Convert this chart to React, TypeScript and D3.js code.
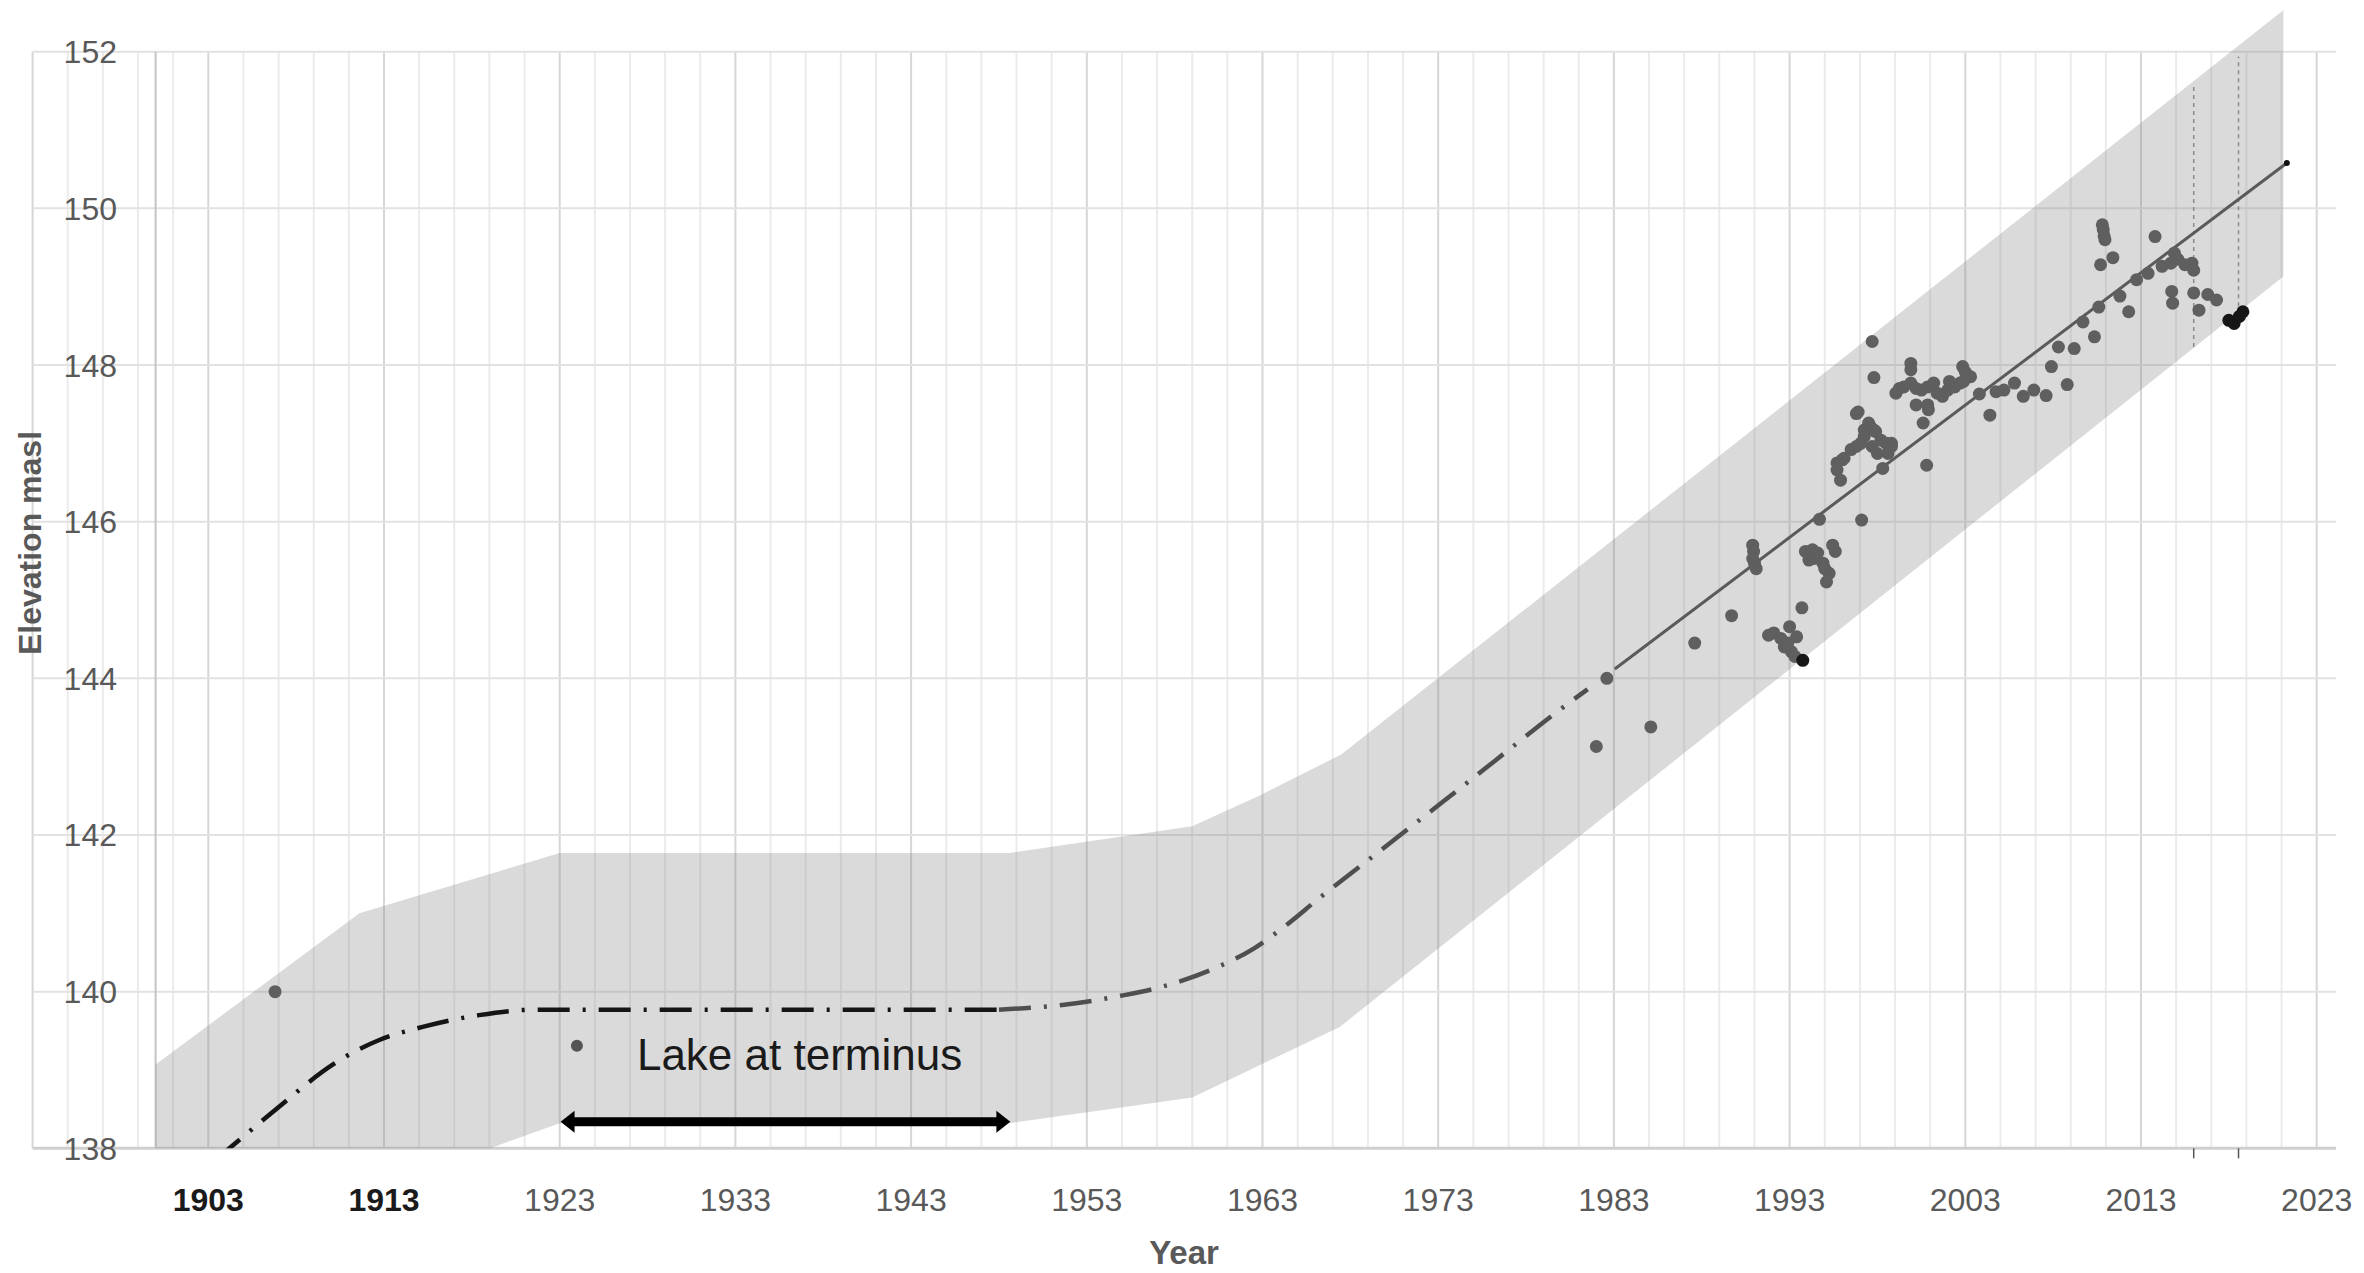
import React, { useEffect } from "react";
import * as d3 from "d3";

// ---------- data ----------
const yearTicks = [1903, 1913, 1923, 1933, 1943, 1953, 1963, 1973, 1983, 1993, 2003, 2013, 2023];
const darkYearLabels = [1903, 1913];
const elevTicks = [138, 140, 142, 144, 146, 148, 150, 152];

// observed elevations [year, elevation masl]
const observations: [number, number][] = [
  [1906.8, 140.0],
  [1982.0, 143.13], [1982.6, 144.0], [1985.1, 143.38], [1987.6, 144.45], [1989.7, 144.8],
  [1990.9, 145.7], [1990.95, 145.62], [1990.9, 145.53], [1991.0, 145.47], [1991.1, 145.4],
  [1991.8, 144.55], [1992.1, 144.58], [1992.5, 144.51], [1993.0, 144.66], [1993.4, 144.53],
  [1992.7, 144.4], [1993.1, 144.34], [1993.3, 144.28], [1992.9, 144.45], [1993.7, 144.9],
  [1993.9, 145.62], [1994.3, 145.64], [1994.6, 145.6], [1994.1, 145.51], [1994.4, 145.53],
  [1994.9, 145.47], [1995.0, 145.4], [1995.25, 145.34], [1995.1, 145.23], [1995.45, 145.7],
  [1995.6, 145.62], [1994.7, 146.03],
  [1995.7, 146.75], [1995.7, 146.66], [1995.9, 146.53], [1996.0, 146.79], [1996.1, 146.81],
  [1996.5, 146.92], [1996.8, 146.96], [1997.05, 147.0], [1997.25, 147.17], [1997.6, 147.21],
  [1997.9, 147.15], [1998.2, 147.04], [1998.5, 147.0], [1998.8, 147.0], [1998.6, 146.87],
  [1998.0, 146.87], [1997.7, 146.96], [1996.8, 147.38], [1997.1, 146.02], [1998.3, 146.68],
  [1996.9, 147.4], [1997.5, 147.26], [1997.8, 147.17], [1997.25, 147.09], [1998.8, 146.96],
  [1997.7, 148.3], [1997.8, 147.84],
  [1999.9, 148.02], [1999.9, 147.94], [1999.05, 147.64], [1999.24, 147.7], [1999.5, 147.72],
  [1999.9, 147.77], [2000.2, 147.7], [2000.5, 147.68], [2000.86, 147.72], [2001.2, 147.77],
  [2001.4, 147.64], [2001.7, 147.6], [2002.0, 147.68], [2002.1, 147.79], [2002.4, 147.72],
  [2002.7, 147.77], [2002.85, 147.98], [2003.0, 147.91], [2003.3, 147.85], [2002.9, 147.79],
  [2000.2, 147.49], [2000.86, 147.49], [2000.9, 147.43], [2000.6, 147.26], [2000.8, 146.72],
  [2003.8, 147.63], [2004.4, 147.36], [2004.75, 147.66], [2005.2, 147.68], [2005.8, 147.77],
  [2006.3, 147.6], [2006.9, 147.68], [2007.6, 147.61], [2007.9, 147.98], [2008.3, 148.23],
  [2008.8, 147.75], [2009.2, 148.21], [2009.7, 148.55], [2010.35, 148.36], [2010.6, 148.74],
  [2010.7, 149.28], [2010.8, 149.79], [2010.85, 149.73], [2010.9, 149.65], [2010.95, 149.6],
  [2011.4, 149.37], [2011.8, 148.88], [2012.3, 148.68], [2012.75, 149.09], [2013.4, 149.17],
  [2013.8, 149.64], [2014.2, 149.26], [2014.9, 149.43], [2015.1, 149.35], [2014.7, 149.3],
  [2015.5, 149.28], [2015.9, 149.3], [2016.0, 149.21], [2014.75, 148.94], [2014.8, 148.79],
  [2016.0, 148.92], [2016.3, 148.7], [2016.8, 148.9], [2017.3, 148.83],
];
const darkObservations: [number, number][] = [
  [1993.75, 144.23], [2018.0, 148.57], [2018.3, 148.53], [2018.6, 148.62], [2018.8, 148.68],
];

// modelled elevation (dash-dot), early part and later part
const modelEarly: [number, number][] = [
  [1903.4, 137.85], [1904.2, 138.0], [1906.7, 138.47], [1910.1, 139.07], [1911.2, 139.22],
  [1912.7, 139.38], [1915.2, 139.55], [1918.4, 139.7], [1921.6, 139.77], [1948.0, 139.77],
];
const modelLate: [number, number][] = [
  [1948.0, 139.77], [1951.6, 139.83], [1955.0, 139.95], [1957.4, 140.07], [1960.5, 140.32],
  [1962.5, 140.55], [1964.3, 140.84], [1966.1, 141.17], [1969.7, 141.8], [1973.3, 142.43],
  [1976.75, 143.04], [1979.4, 143.51], [1981.5, 143.86],
];
// linear trend of observations
const trendLine: [number, number][] = [[1983.05, 144.12], [2021.3, 150.58]];

// uncertainty band
const bandUpper: [number, number][] = [
  [1900, 139.07], [1911.6, 141.0], [1923, 141.77], [1948.6, 141.77], [1959, 142.11],
  [1962.9, 142.51], [1967.5, 143.03], [2021.1, 152.53],
];
const bandLower: [number, number][] = [
  [1900, 137.0], [1911.6, 137.4], [1923, 138.32], [1948.6, 138.32], [1959, 138.65],
  [1967.4, 139.55], [2021.1, 149.13],
];

// dotted markers [year, from, to]
const dottedMarkers: [number, number, number][] = [[2016.0, 148.23, 151.6], [2018.55, 148.75, 151.94]];

// lake annotation
const lakeMarker: [number, number] = [1923.98, 139.31];
const lakePeriod: [number, number] = [1923.05, 1948.65];
const lakeArrowElev = 138.34;
const lakeLabel = "Lake at terminus";

const gridYears = d3.range(1893, 2024, 2);
const gridXExtent: [number, number] = [1893, 2024.1];

export default function App() {
  useEffect(() => {
    document.body.style.margin = "0";
  }, []);

  const W = 2364, H = 1273;
  const x = d3.scaleLinear().domain([1903, 2023]).range([208.3, 2316.7]);
  const y = d3.scaleLinear().domain([138, 152]).range([1148.3, 51.7]);

  const line = d3.line<[number, number]>().x(d => x(d[0])).y(d => y(d[1]));
  const smooth = d3.line<[number, number]>().x(d => x(d[0])).y(d => y(d[1])).curve(d3.curveMonotoneX);
  const bandPoly = [...bandUpper, ...bandLower.slice().reverse()];
  const bandPath = line(bandPoly) + "Z";

  const font = "'Liberation Sans', Arial, sans-serif";
  const grey = "#595959";

  const arrowY = y(lakeArrowElev);
  const ax0 = x(lakePeriod[0]);
  const ax1 = x(lakePeriod[1]);

  return (
    <svg width={W} height={H} style={{ position: "absolute", left: 0, top: 0, background: "#fff" }}>
      <defs>
        <clipPath id="plotclip">
          <rect x={0} y={0} width={W} height={y(138)} />
        </clipPath>
      </defs>
      {/* vertical grid */}
      {gridYears.map(yr => {
        const major = (yr - 1903) % 10 === 0;
        return (
          <line key={"v" + yr} x1={x(yr)} x2={x(yr)} y1={y(152)} y2={y(138)}
            stroke={major ? "#d6d6d6" : "#ebebeb"} strokeWidth={2} />
        );
      })}
      {/* horizontal grid */}
      {elevTicks.map(v => (
        <line key={"h" + v} x1={x(gridXExtent[0])} x2={x(gridXExtent[1])} y1={y(v)} y2={y(v)}
          stroke={v === 138 ? "#cfcfcf" : "#e2e2e2"} strokeWidth={v === 138 ? 3 : 2} />
      ))}
      {/* axis at 1900 */}
      <line x1={x(1900)} x2={x(1900)} y1={y(152)} y2={y(138)} stroke="#c4c4c4" strokeWidth={2} />

      {/* band */}
      <path d={bandPath} fill="#808080" fillOpacity={0.29} clipPath="url(#plotclip)" />

      {/* modelled curve */}
      <path d={smooth(modelEarly) || ""} fill="none" stroke="#151515" strokeWidth={4.5}
        strokeDasharray="32 13 3 13" clipPath="url(#plotclip)" />
      <path d={smooth(modelLate) || ""} fill="none" stroke="#4f4f4f" strokeWidth={4.5}
        strokeDasharray="32 13 3 13" />

      {/* dotted markers */}
      {dottedMarkers.map(([yr, a, b]) => (
        <g key={"dm" + yr}>
          <line x1={x(yr)} x2={x(yr)} y1={y(a)} y2={y(b)} stroke="#8a8a8a" strokeWidth={1.5} strokeDasharray="4 4" />
          <line x1={x(yr)} x2={x(yr)} y1={y(138)} y2={y(138) + 10} stroke="#555" strokeWidth={1.5} />
        </g>
      ))}

      {/* trend */}
      <path d={line(trendLine) || ""} fill="none" stroke="#5a5a5a" strokeWidth={3} />
      <circle cx={x(trendLine[1][0])} cy={y(trendLine[1][1])} r={3} fill="#111" />

      {/* observations */}
      {observations.map((d, i) => (
        <circle key={"o" + i} cx={x(d[0])} cy={y(d[1])} r={6.5} fill="#5f5f5f" />
      ))}
      {darkObservations.map((d, i) => (
        <circle key={"k" + i} cx={x(d[0])} cy={y(d[1])} r={6.5} fill="#161616" />
      ))}

      {/* lake annotation */}
      <circle cx={x(lakeMarker[0])} cy={y(lakeMarker[1])} r={6} fill="#555" />
      <text x={x(lakeMarker[0]) + 60} y={1070} fontFamily={font} fontSize={44} fill="#1a1a1a">{lakeLabel}</text>
      <line x1={ax0 + 10} x2={ax1 - 10} y1={arrowY} y2={arrowY} stroke="#000" strokeWidth={9} />
      <path d={`M${ax0},${arrowY} L${ax0 + 14},${arrowY - 11} L${ax0 + 14},${arrowY + 11} Z`} fill="#000" />
      <path d={`M${ax1},${arrowY} L${ax1 - 14},${arrowY - 11} L${ax1 - 14},${arrowY + 11} Z`} fill="#000" />

      {/* y tick labels */}
      {elevTicks.map(v => (
        <text key={"yl" + v} x={117} y={y(v) + 11.5} textAnchor="end" fontFamily={font} fontSize={32} fill={grey}>{v}</text>
      ))}
      {/* x tick labels */}
      {yearTicks.map(yr => (
        <text key={"xl" + yr} x={x(yr)} y={1211} textAnchor="middle" fontFamily={font} fontSize={32}
          fill={darkYearLabels.includes(yr) ? "#1a1a1a" : grey}
          fontWeight={darkYearLabels.includes(yr) ? 600 : 400}>{yr}</text>
      ))}
      {/* axis titles */}
      <text x={1184} y={1264} textAnchor="middle" fontFamily={font} fontSize={33} fontWeight="bold" fill={grey}>Year</text>
      <text transform="translate(41,543) rotate(-90)" textAnchor="middle" fontFamily={font} fontSize={32}
        fontWeight="bold" fill={grey}>Elevation masl</text>
    </svg>
  );
}
